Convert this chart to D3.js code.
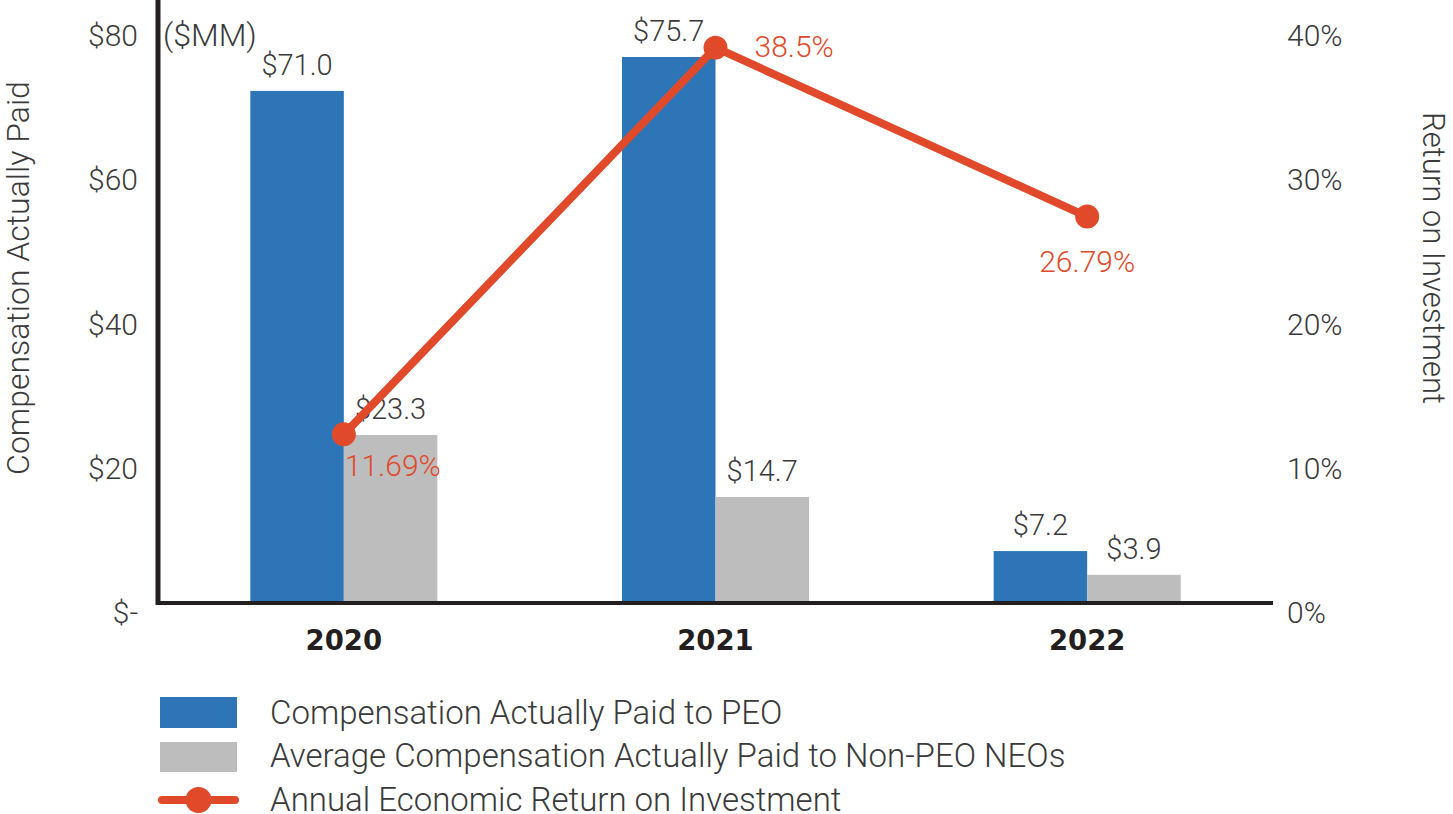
<!DOCTYPE html>
<html>
<head>
<meta charset="utf-8">
<script src="https://cdn.jsdelivr.net/npm/d3@7"></script>
<style>
  body { margin: 0; background: #fff; }
  text { font-family: Roboto, "Noto Sans", sans-serif; font-weight: 300; fill: #3a3a3a; }
</style>
</head>
<body>
<div id="chart"></div>
<script>
// chart data
var years = ["2020", "2021", "2022"];
var peoPaid = [71.0, 75.7, 7.2];
var neoPaid = [23.3, 14.7, 3.9];
var roi = [11.69, 38.5, 26.79];
var roiLabels = ["11.69%", "38.5%", "26.79%"];
var leftTicks = [0, 20, 40, 60, 80];
var rightTicks = [0, 10, 20, 30, 40];
var seriesNames = [
  "Compensation Actually Paid to PEO",
  "Average Compensation Actually Paid to Non-PEO NEOs",
  "Annual Economic Return on Investment"
];

var svgWidth = 1453;
var svgHeight = 814;

var margin = { top: 26, right: 180, bottom: 211, left: 158 };
var width = svgWidth - margin.left - margin.right;
var height = svgHeight - margin.top - margin.bottom;

var blue = "#2e75b8";
var gray = "#bdbdbe";
var orange = "#e04a2a";

var svg = d3.select("#chart")
  .append("svg")
  .attr("width", svgWidth)
  .attr("height", svgHeight);

var g = svg.append("g")
  .attr("transform", `translate(${margin.left}, ${margin.top})`);

// scales
var x0 = d3.scaleBand().domain(years).range([0, width]);
var x1 = d3.scaleBand().domain(["peo", "neo"]).range([x0.bandwidth() / 2 - 93.5, x0.bandwidth() / 2 + 93.5]);
var yLeft = d3.scaleLinear().domain([0, 80]).range([height, 0]);
var yRight = d3.scaleLinear().domain([0, 40]).range([height, 0]);

// left tick labels
var leftAxis = d3.axisLeft(yLeft)
  .tickValues(leftTicks)
  .tickSize(0)
  .tickPadding(20)
  .tickFormat(d => d === 0 ? "$-" : "$" + d);

g.append("g")
  .attr("class", "y-left")
  .call(leftAxis)
  .call(a => a.select(".domain").remove())
  .call(a => a.selectAll("text")
    .attr("dy", "0.32em")
    .attr("y", 10)
    .style("font-size", "30px")
    .style("fill", "#3a3a3a"));

// right tick labels
var rightAxis = d3.axisRight(yRight)
  .tickValues(rightTicks)
  .tickSize(0)
  .tickPadding(14)
  .tickFormat(d => d + "%");

g.append("g")
  .attr("transform", `translate(${width}, 0)`)
  .call(rightAxis)
  .call(a => a.select(".domain").remove())
  .call(a => a.selectAll("text")
    .attr("dy", "0.32em")
    .attr("y", 10)
    .style("font-size", "30px")
    .style("fill", "#3a3a3a"));

// bars
var groups = g.selectAll(".year")
  .data(years)
  .enter()
  .append("g")
  .attr("transform", d => `translate(${x0(d)}, 0)`);

groups.append("rect")
  .attr("x", x1("peo"))
  .attr("width", x1.bandwidth())
  .attr("y", (d, i) => yLeft(peoPaid[i]))
  .attr("height", (d, i) => height - yLeft(peoPaid[i]))
  .attr("fill", blue);

groups.append("rect")
  .attr("x", x1("neo"))
  .attr("width", x1.bandwidth())
  .attr("y", (d, i) => yLeft(neoPaid[i]))
  .attr("height", (d, i) => height - yLeft(neoPaid[i]))
  .attr("fill", gray);

// bar value labels
groups.append("text")
  .attr("x", x1("peo") + x1.bandwidth() / 2)
  .attr("y", (d, i) => yLeft(peoPaid[i]) - 16)
  .attr("text-anchor", "middle")
  .style("font-size", "29px")
  .text((d, i) => "$" + peoPaid[i].toFixed(1));

groups.append("text")
  .attr("x", x1("neo") + x1.bandwidth() / 2)
  .attr("y", (d, i) => yLeft(neoPaid[i]) - 16)
  .attr("text-anchor", "middle")
  .style("font-size", "29px")
  .text((d, i) => "$" + neoPaid[i].toFixed(1));

// axis lines
g.append("line")
  .attr("x1", 0).attr("x2", 0)
  .attr("y1", -margin.top).attr("y2", height + 2)
  .attr("stroke", "#231f20")
  .attr("stroke-width", 5);

g.append("line")
  .attr("x1", -2).attr("x2", width)
  .attr("y1", height).attr("y2", height)
  .attr("stroke", "#231f20")
  .attr("stroke-width", 4);

// year labels
g.selectAll(".year-label")
  .data(years)
  .enter()
  .append("text")
  .attr("x", d => x0(d) + x0.bandwidth() / 2)
  .attr("y", height + 47)
  .attr("text-anchor", "middle")
  .style("font-family", "'DejaVu Sans', sans-serif")
  .style("font-size", "27.5px")
  .style("font-weight", "700")
  .style("fill", "#231f20")
  .text(d => d);

// ROI line
var line = d3.line()
  .x((d, i) => x0(years[i]) + x0.bandwidth() / 2)
  .y(d => yRight(d));

g.append("path")
  .datum(roi)
  .attr("d", line)
  .attr("fill", "none")
  .attr("stroke", orange)
  .attr("stroke-width", 8);

g.selectAll(".roi-dot")
  .data(roi)
  .enter()
  .append("circle")
  .attr("cx", (d, i) => x0(years[i]) + x0.bandwidth() / 2)
  .attr("cy", d => yRight(d))
  .attr("r", 12)
  .attr("fill", orange);

// ROI labels
var roiOffsets = [[1, 42, "start"], [39, 9, "start"], [0, 55, "middle"]];
g.selectAll(".roi-label")
  .data(roi)
  .enter()
  .append("text")
  .attr("x", (d, i) => x0(years[i]) + x0.bandwidth() / 2 + roiOffsets[i][0])
  .attr("y", (d, i) => yRight(d) + roiOffsets[i][1])
  .attr("text-anchor", (d, i) => roiOffsets[i][2])
  .style("font-size", "30px")
  .style("fill", orange)
  .text((d, i) => roiLabels[i]);

// units note
g.append("text")
  .attr("x", 5)
  .attr("y", 20)
  .style("font-size", "32px")
  .text("($MM)");

// axis titles
svg.append("text")
  .attr("transform", "translate(29, 278) rotate(-90)")
  .attr("text-anchor", "middle")
  .style("font-size", "32px")
  .text("Compensation Actually Paid");

svg.append("text")
  .attr("transform", "translate(1423, 258) rotate(90)")
  .attr("text-anchor", "middle")
  .style("font-size", "31px")
  .text("Return on Investment");

// legend
var legend = svg.append("g").attr("transform", "translate(160, 697)");

legend.append("rect").attr("x", 0).attr("y", 0).attr("width", 77).attr("height", 31).attr("fill", blue);
legend.append("rect").attr("x", 0).attr("y", 45).attr("width", 77).attr("height", 30).attr("fill", gray);
legend.append("line").attr("x1", 2).attr("x2", 75).attr("y1", 103).attr("y2", 103)
  .attr("stroke", orange).attr("stroke-width", 8).attr("stroke-linecap", "round");
legend.append("circle").attr("cx", 38.5).attr("cy", 103).attr("r", 13).attr("fill", orange);

legend.selectAll(".legend-text")
  .data(seriesNames)
  .enter()
  .append("text")
  .attr("x", 110)
  .attr("y", (d, i) => 15 + i * 43.5)
  .attr("dy", "0.35em")
  .style("font-size", "33px")
  .text(d => d);
</script>
</body>
</html>
